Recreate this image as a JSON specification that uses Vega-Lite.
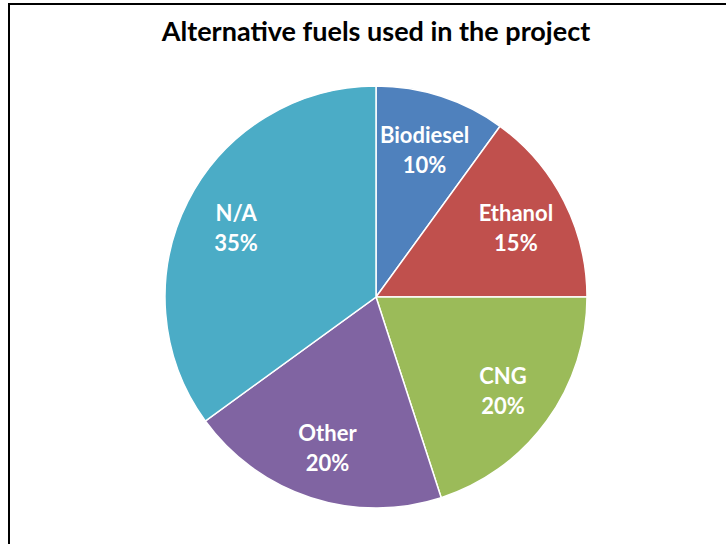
{
  "$schema": "https://vega.github.io/schema/vega-lite/v6.json",
  "width": 734,
  "height": 586,
  "autosize": {"type": "none"},
  "padding": {"left": 9, "top": 4, "right": 0, "bottom": 0},
  "background": "white",
  "view": {"stroke": "black", "strokeWidth": 2, "fill": "white"},
  "config": {"view": {"stroke": "black", "strokeWidth": 2}},
  "title": {
    "text": "Alternative fuels used in the project",
    "font": "Lato",
    "fontSize": 27,
    "fontWeight": "bold",
    "color": "#000000",
    "anchor": "middle",
    "frame": "group",
    "baseline": "alphabetic",
    "offset": -64
  },
  "data": {
    "values": [
      {"fuel": "Biodiesel", "share": 0.10, "rank": 1},
      {"fuel": "Ethanol", "share": 0.15, "rank": 2},
      {"fuel": "CNG", "share": 0.20, "rank": 3},
      {"fuel": "Other", "share": 0.20, "rank": 4},
      {"fuel": "N/A", "share": 0.35, "rank": 5}
    ]
  },
  "encoding": {
    "theta": {"field": "share", "type": "quantitative", "stack": true},
    "order": {"field": "rank", "type": "quantitative"}
  },
  "layer": [
    {
      "mark": {"type": "arc", "outerRadius": 211, "stroke": "white", "strokeWidth": 1.5},
      "encoding": {
        "color": {
          "field": "fuel",
          "type": "nominal",
          "scale": {
            "domain": ["Biodiesel", "Ethanol", "CNG", "Other", "N/A"],
            "range": ["#4F81BD", "#C0504D", "#9BBB59", "#8064A2", "#4BACC6"]
          },
          "legend": null
        }
      }
    },
    {
      "mark": {"type": "text", "radius": 157, "dy": -12, "font": "Lato", "fontSize": 22, "fontWeight": "bold", "fill": "white"},
      "encoding": {"text": {"field": "fuel", "type": "nominal"}}
    },
    {
      "mark": {"type": "text", "radius": 157, "dy": 18, "font": "Lato", "fontSize": 22, "fontWeight": "bold", "fill": "white"},
      "encoding": {"text": {"field": "share", "type": "quantitative", "format": ".0%"}}
    }
  ]
}
